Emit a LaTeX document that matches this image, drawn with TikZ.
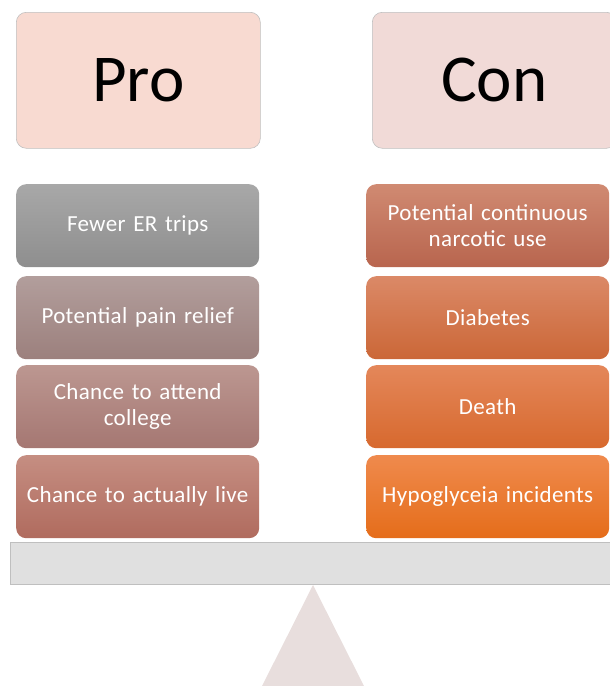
\documentclass[tikz,border=0pt]{standalone}
\usepackage{fontspec}
\setmainfont{Carlito}
\newfontfamily\itemfont[WordSpace=0.8,LetterSpace=1.5]{Carlito}
\definecolor{proc}{RGB}{248,218,209}
\definecolor{conc}{RGB}{241,218,215}
\definecolor{fulc}{RGB}{232,222,221}
\definecolor{pat}{RGB}{168,168,168}\definecolor{pab}{RGB}{142,142,142}
\definecolor{pbt}{RGB}{178,158,156}\definecolor{pbb}{RGB}{156,128,125}
\definecolor{pct}{RGB}{188,151,145}\definecolor{pcb}{RGB}{165,119,114}
\definecolor{pdt}{RGB}{197,142,130}\definecolor{pdb}{RGB}{176,107,94}
\definecolor{cat}{RGB}{208,138,114}\definecolor{cab}{RGB}{184,101,78}
\definecolor{cbt}{RGB}{219,137,103}\definecolor{cbb}{RGB}{203,103,55}
\definecolor{cct}{RGB}{228,135,90}\definecolor{ccb}{RGB}{215,105,46}
\definecolor{cdt}{RGB}{239,138,77}\definecolor{cdb}{RGB}{229,109,26}
\begin{document}
\begin{tikzpicture}[x=1pt,y=-1pt,
  head/.style={draw=black!25, line width=0.6pt, rounded corners=10pt, anchor=north west,
    minimum width=244pt, minimum height=136pt, inner sep=0pt,
    font=\fontsize{67}{70}\selectfont},
  item/.style={rounded corners=10pt, anchor=north west, minimum width=243pt,
    minimum height=83pt, inner sep=0pt, text=white, align=center, text width=238pt,
    font=\itemfont\fontsize{23}{26}\selectfont},
  beam/.style={draw=black!25, fill=black!12, line width=0.8pt},
  fulcrum/.style={fill=fulc}
]
\useasboundingbox (0,0) rectangle (610,686);
\node[head, fill=proc] (pro) at (16,12) {Pro};
\node[head, fill=conc] (con) at (372,12) {Con};
% pro items
\node[item, top color=pat, bottom color=pab] (p1) at (16,184) {Fewer ER trips};
\node[item, top color=pbt, bottom color=pbb] (p2) at (16,276) {Potential pain relief};
\node[item, top color=pct, bottom color=pcb] (p3) at (16,365) {Chance to attend\\college};
\node[item, top color=pdt, bottom color=pdb] (p4) at (16,455) {Chance to actually live};
% con items
\node[item, top color=cat, bottom color=cab] (c1) at (366,184) {Potential continuous\\narcotic use};
\node[item, top color=cbt, bottom color=cbb] (c2) at (366,276) {Diabetes};
\node[item, top color=cct, bottom color=ccb] (c3) at (366,365) {Death};
\node[item, top color=cdt, bottom color=cdb] (c4) at (366,455) {Hypoglyceia incidents};
% balance
\draw[beam] (10,542) rectangle (612,584);
\coordinate (apex) at (313,585);
\fill[fulcrum] (apex) -- (262,686) -- (364,686) -- cycle;
\end{tikzpicture}
\end{document}
